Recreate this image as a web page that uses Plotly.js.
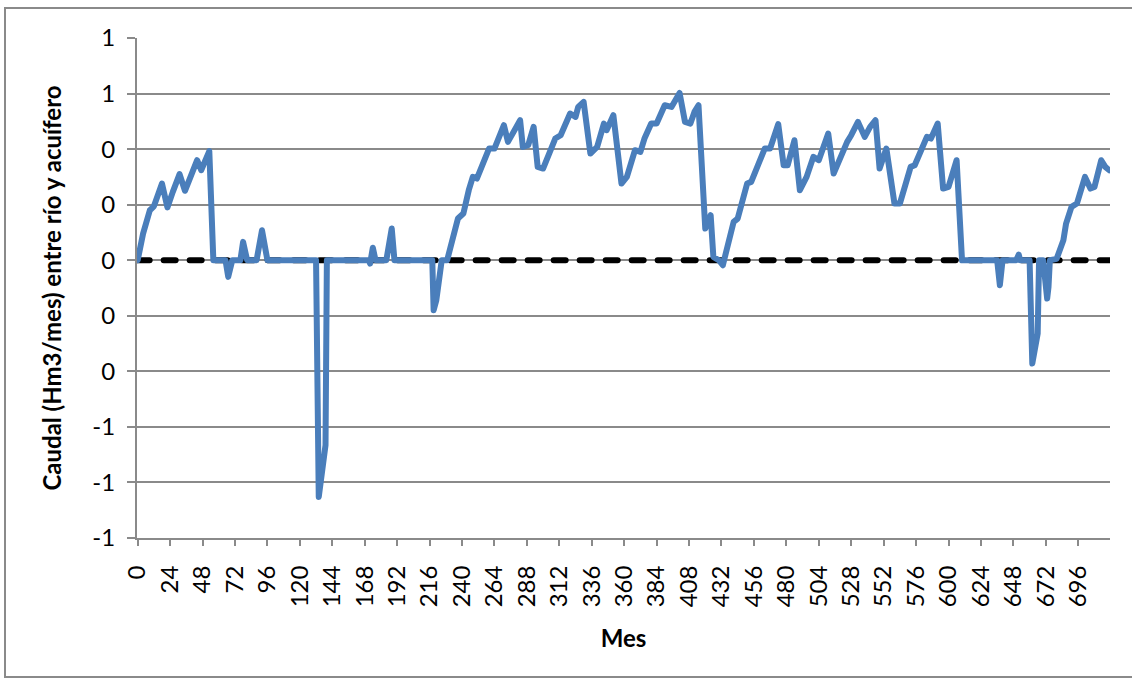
<!DOCTYPE html>
<html>
<head>
<meta charset="utf-8">
<script src="https://cdn.plot.ly/plotly-3.0.1.min.js"></script>
<style>
  html, body { margin: 0; padding: 0; background: #ffffff; }
  #wrap { position: relative; width: 1132px; height: 681px; overflow: hidden; }
  #chart { position: absolute; left: 0; top: 0; width: 1132px; height: 681px; }
  #frame { position: absolute; left: 4px; top: 7px; width: 1150px; height: 667px;
           border: 2px solid #8a8a8a; pointer-events: none; }
  .scatterlayer path.js-line { stroke-linecap: round; stroke-linejoin: round; }
</style>
</head>
<body>
<div id="wrap"><div id="chart"></div><div id="frame"></div></div>
<script>
const mes = [
  0, 4, 9, 12, 18, 22, 26, 31, 35, 40, 44, 47, 53, 56, 65, 67, 70, 76, 78, 81,
  88, 92, 96, 132, 134, 139, 140, 171, 172, 174, 176, 184, 188, 190, 218, 219, 221, 225, 229, 237,
  241, 245, 248, 251, 255, 260, 264, 268, 271, 274, 278, 283, 285, 289, 293, 296, 300, 305, 309, 313,
  316, 320, 324, 326, 330, 335, 340, 343, 345, 347, 352, 358, 362, 368, 372, 375, 380, 384, 390, 395,
  399, 401, 405, 409, 412, 415, 420, 424, 426, 430, 433, 436, 441, 444, 451, 454, 461, 464, 468, 474,
  478, 481, 486, 490, 495, 500, 504, 511, 515, 520, 525, 528, 533, 538, 542, 546, 549, 554, 560, 564,
  568, 572, 575, 584, 587, 592, 596, 600, 606, 610, 636, 638, 640, 650, 652, 653, 660, 662, 666, 667,
  670, 673, 674, 675, 680, 685, 687, 691, 695, 701, 705, 708, 713, 716, 719
];
const caudal = [
  0, 0.096, 0.18, 0.194, 0.276, 0.19, 0.246, 0.31, 0.25, 0.318, 0.36, 0.324, 0.393, 0, 0, -0.06, 0, 0, 0.066, 0,
  0, 0.108, 0, 0, -0.852, -0.666, 0, 0, -0.012, 0.045, 0, 0, 0.114, 0, 0, -0.18, -0.144, 0, 0, 0.15,
  0.168, 0.252, 0.30, 0.294, 0.348, 0.402, 0.402, 0.45, 0.486, 0.426, 0.462, 0.504, 0.408, 0.414, 0.48, 0.336, 0.33, 0.39, 0.438, 0.45,
  0.486, 0.528, 0.516, 0.552, 0.57, 0.384, 0.408, 0.456, 0.492, 0.468, 0.522, 0.276, 0.30, 0.396, 0.39, 0.438, 0.492, 0.492, 0.558, 0.552,
  0.588, 0.602, 0.498, 0.492, 0.534, 0.558, 0.114, 0.162, 0.012, 0, -0.018, 0.048, 0.138, 0.15, 0.276, 0.282, 0.36, 0.402, 0.402, 0.49,
  0.342, 0.342, 0.432, 0.252, 0.30, 0.372, 0.36, 0.456, 0.312, 0.372, 0.426, 0.45, 0.498, 0.444, 0.48, 0.504, 0.33, 0.402, 0.204, 0.204,
  0.264, 0.336, 0.342, 0.444, 0.438, 0.492, 0.258, 0.264, 0.36, 0, 0, -0.09, 0, 0, 0.02, 0, 0, -0.372, -0.264, 0,
  0, -0.138, -0.096, 0, 0.005, 0.072, 0.132, 0.192, 0.204, 0.30, 0.258, 0.264, 0.36, 0.336, 0.324
];
// Reference (zero) line
const mesCero = [0, 719];
const valorCero = [0, 0];

// Axis ticks
const xTickVals = [0, 24, 48, 72, 96, 120, 144, 168, 192, 216, 240, 264, 288, 312, 336, 360,
                   384, 408, 432, 456, 480, 504, 528, 552, 576, 600, 624, 648, 672, 696];
const xTickText = xTickVals.map(String);
const yTickVals = [-1, -0.8, -0.6, -0.4, -0.2, 0, 0.2, 0.4, 0.6, 0.8];
const yTickText = ['-1', '-1', '-1', '0', '0', '0', '0', '0', '1', '1'];

const gris = '#8a8a8a';

const data = [
  {
    x: mesCero, y: valorCero, type: 'scatter', mode: 'lines',
    line: { color: '#000000', width: 6, dash: '12px,14px' },
    hoverinfo: 'skip'
  },
  {
    x: mes, y: caudal, type: 'scatter', mode: 'lines',
    line: { color: '#4A7EBB', width: 6 }
  }
];

const layout = {
  width: 1132, height: 681,
  margin: { l: 137, r: 22, t: 38, b: 143, pad: 0 },
  paper_bgcolor: '#ffffff', plot_bgcolor: '#ffffff',
  showlegend: false,
  font: { family: 'Lato, sans-serif', color: '#000000' },
  xaxis: {
    range: [-0.5, 719.5],
    tickmode: 'array', tickvals: xTickVals, ticktext: xTickText,
    tickangle: -90,
    ticks: 'outside', ticklen: 6, tickwidth: 2, tickcolor: gris,
    ticklabelstandoff: 10,
    showline: true, linecolor: gris, linewidth: 2,
    showgrid: false, zeroline: false,
    tickfont: { size: 24, color: '#000000' },
    title: { text: 'Mes', font: { size: 24, weight: 'bold', color: '#000000' }, standoff: 24 }
  },
  yaxis: {
    range: [-1, 0.8],
    tickmode: 'array', tickvals: yTickVals, ticktext: yTickText,
    ticks: 'outside', ticklen: 8, tickwidth: 2, tickcolor: gris,
    ticklabelstandoff: 7,
    showline: true, linecolor: gris, linewidth: 2,
    showgrid: true, gridcolor: gris, gridwidth: 2, zeroline: false,
    tickfont: { size: 24, color: '#000000' },
    title: { text: 'Caudal (Hm3/mes) entre río y acuífero', font: { size: 24, weight: 'bold', color: '#000000' }, standoff: 24 }
  }
};

Plotly.newPlot('chart', data, layout, { staticPlot: true, displayModeBar: false });
</script>
</body>
</html>
